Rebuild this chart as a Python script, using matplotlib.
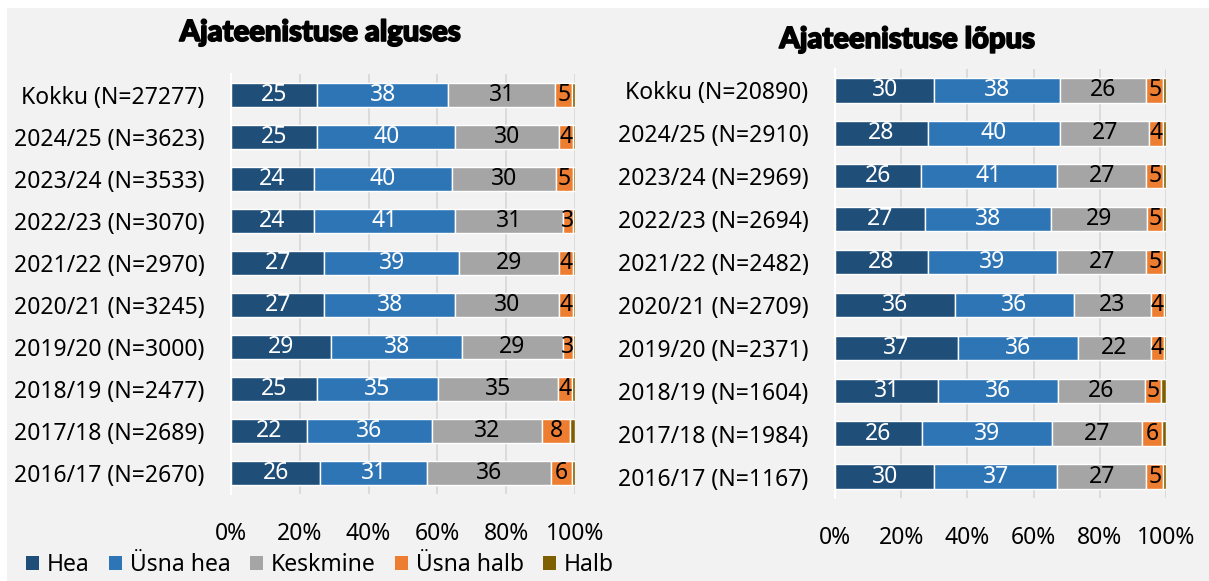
import matplotlib
matplotlib.use("Agg")
import matplotlib.pyplot as plt
from matplotlib.patches import Rectangle, Patch
import matplotlib.patheffects as pe
import numpy as np

plt.rcParams['font.family'] = ['Noto Sans', 'DejaVu Sans']

series_names = ["Hea", "Üsna hea", "Keskmine", "Üsna halb", "Halb"]
colors = ["#1F4E79", "#2E75B6", "#A5A5A5", "#ED7D31", "#7F6000"]
label_colors = ["white", "white", "#000000", "#000000", None]

left_title = "Ajateenistuse alguses"
left_cats = ["Kokku (N=27277)", "2024/25 (N=3623)", "2023/24 (N=3533)", "2022/23 (N=3070)",
             "2021/22 (N=2970)", "2020/21 (N=3245)", "2019/20 (N=3000)", "2018/19 (N=2477)",
             "2017/18 (N=2689)", "2016/17 (N=2670)"]
left_hea = [25, 25, 24, 24, 27, 27, 29, 25, 22, 26]
left_usna_hea = [38, 40, 40, 41, 39, 38, 38, 35, 36, 31]
left_keskmine = [31, 30, 30, 31, 29, 30, 29, 35, 32, 36]
left_usna_halb = [5, 4, 5, 3, 4, 4, 3, 4, 8, 6]
left_halb = [0.8, 0.6, 0.6, 0.6, 0.6, 0.7, 0.6, 0.8, 1.4, 1.0]

right_title = "Ajateenistuse lõpus"
right_cats = ["Kokku (N=20890)", "2024/25 (N=2910)", "2023/24 (N=2969)", "2022/23 (N=2694)",
              "2021/22 (N=2482)", "2020/21 (N=2709)", "2019/20 (N=2371)", "2018/19 (N=1604)",
              "2017/18 (N=1984)", "2016/17 (N=1167)"]
right_hea = [30, 28, 26, 27, 28, 36, 37, 31, 26, 30]
right_usna_hea = [38, 40, 41, 38, 39, 36, 36, 36, 39, 37]
right_keskmine = [26, 27, 27, 29, 27, 23, 22, 26, 27, 27]
right_usna_halb = [5, 4, 5, 5, 5, 4, 4, 5, 6, 5]
right_halb = [0.9, 1.0, 0.9, 0.8, 0.9, 0.6, 0.6, 1.4, 1.1, 0.9]

xticks = [0, 20, 40, 60, 80, 100]
xticklabels = ["0%", "20%", "40%", "60%", "80%", "100%"]

FS = 16.5

fig = plt.figure(figsize=(12.09, 5.81), dpi=100, facecolor="#F2F2F2")
fig.patches.append(Rectangle((0, 1 - 8 / 581), 1, 8 / 581, transform=fig.transFigure,
                             facecolor="white", edgecolor="none", zorder=0))
fig.patches.append(Rectangle((0, 0), 7 / 1209, 1, transform=fig.transFigure,
                             facecolor="white", edgecolor="none", zorder=0))


def draw_panel(ax, cats, data):
    arr = np.array(data, dtype=float)
    shares = arr / arr.sum(axis=0) * 100
    y = np.arange(len(cats))
    left = np.zeros(len(cats))
    for i, (name, col) in enumerate(zip(series_names, colors)):
        bars = ax.barh(y, shares[i], left=left, height=0.57, color=col,
                       edgecolor="white", linewidth=1.0, label=name, zorder=3)
        if label_colors[i] is not None:
            ax.bar_label(bars, labels=[str(int(v)) for v in arr[i]], label_type="center",
                         color=label_colors[i], fontsize=FS, zorder=4)
        left += shares[i]
    ax.set_facecolor("#F2F2F2")
    ax.set_xlim(0, 100)
    ax.set_ylim(len(cats) - 0.5, -0.5)
    ax.set_yticks(y)
    ax.set_yticklabels(cats, fontsize=FS)
    ax.set_xticks(xticks)
    ax.set_xticklabels(xticklabels, fontsize=FS)
    ax.tick_params(axis="both", length=0)
    ax.tick_params(axis="x", pad=20)
    ax.tick_params(axis="y", pad=19)
    ax.xaxis.grid(True, color="#D9D9D9", linewidth=1.3, zorder=0)
    ax.set_axisbelow(True)
    for s in ["top", "right", "bottom"]:
        ax.spines[s].set_visible(False)
    ax.spines["left"].set_color("white")
    ax.spines["left"].set_linewidth(1.5)
    ax.spines["left"].set_zorder(5)


ax1 = fig.add_axes([231 / 1209, 1 - 494 / 581, 344 / 1209, 420 / 581])
draw_panel(ax1, left_cats, [left_hea, left_usna_hea, left_keskmine, left_usna_halb, left_halb])

ax2 = fig.add_axes([835 / 1209, 1 - 498 / 581, 331 / 1209, 429 / 581])
draw_panel(ax2, right_cats, [right_hea, right_usna_hea, right_keskmine, right_usna_halb, right_halb])

heavy = [pe.withStroke(linewidth=1.2, foreground="black")]
fig.text(320 / 1209, 1 - 33 / 581, left_title, ha="center", va="center", fontsize=21,
         family=["Lato", "DejaVu Sans"], fontweight=900, path_effects=heavy)
fig.text(907 / 1209, 1 - 40 / 581, right_title, ha="center", va="center", fontsize=21,
         family=["Lato", "DejaVu Sans"], fontweight=900, path_effects=heavy)

handles = [Patch(facecolor=c, edgecolor="none") for c in colors]
fig.legend(handles, series_names, loc="center", bbox_to_anchor=(320 / 1209, 1 - 565 / 581),
           ncol=5, frameon=False, fontsize=FS, handlelength=0.55, handleheight=0.55,
           handletextpad=0.35, columnspacing=0.85, borderaxespad=0, borderpad=0)

fig.savefig("out.png", dpi=100, facecolor=fig.get_facecolor())
